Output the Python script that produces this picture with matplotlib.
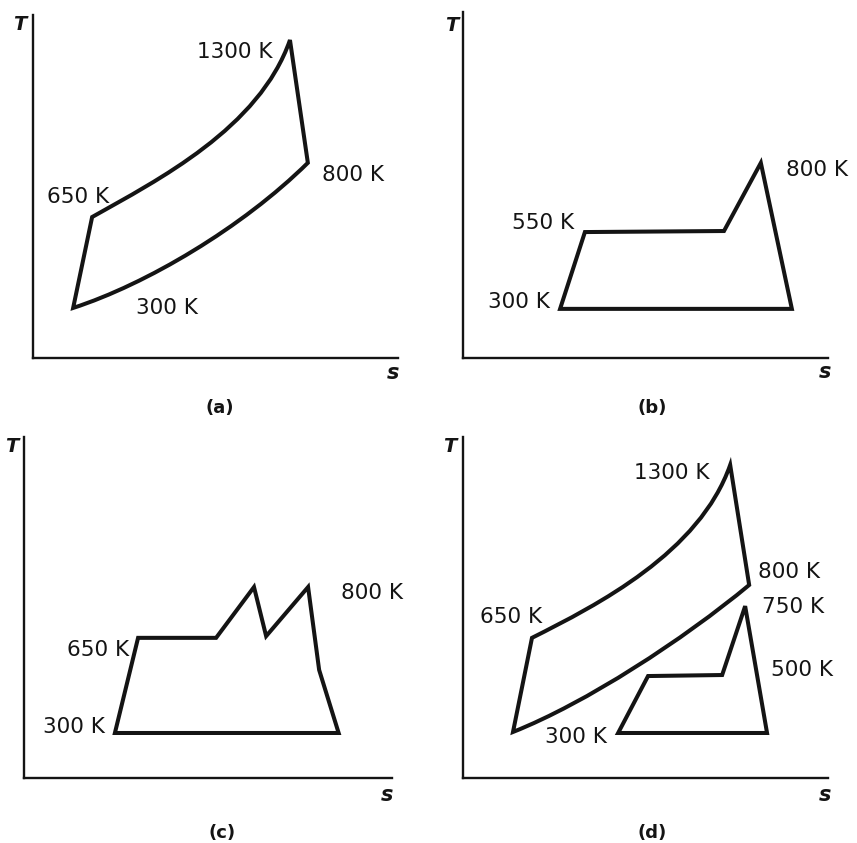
import matplotlib
matplotlib.use("Agg")
import matplotlib.pyplot as plt
from matplotlib.path import Path
from matplotlib.patches import PathPatch

plt.rcParams['font.family'] = ['DejaVu Sans']

# ---- data (s and T in diagram units, 0-100 along each axis) ----
# Each cycle: list of segments; "L" = straight line to point,
# "C" = smooth curve (two control points, then end point).
# (a) simple gas-turbine cycle
a_start = (11.0, 14.6)                                      # 300 K
a_segs = [("L", [(16.2, 41.1)]),                            # 650 K
          ("C", [(34.2, 51.9), (62.0, 67.0), (70.4, 92.7)]),  # 1300 K
          ("L", [(75.3, 56.9)]),                            # 800 K
          ("C", [(57.3, 38.0), (31.0, 21.5), (11.0, 14.6)])]
a_labels = ["1300 K", "650 K", "800 K", "300 K"]

# (b) steam cycle
b_start = (26.6, 14.2)
b_segs = [("L", [(33.4, 36.4), (71.5, 36.7), (81.6, 56.4), (90.1, 14.2), (26.6, 14.2)])]
b_labels = ["800 K", "550 K", "300 K"]

# (c) steam cycle with reheat
c_start = (24.7, 13.2)
c_segs = [("L", [(31.0, 41.1), (52.2, 41.1), (62.5, 56.0), (65.8, 41.6),
                 (77.2, 56.0), (80.2, 31.7), (85.5, 13.2), (24.7, 13.2)])]
c_labels = ["800 K", "650 K", "300 K"]

# (d) combined cycle: gas (outer) + steam (inner)
d_gas_start = (13.7, 13.5)
d_gas_segs = [("L", [(18.9, 41.1)]),
              ("C", [(36.9, 50.8), (64.8, 66.1), (73.2, 91.8)]),
              ("L", [(78.4, 56.6)]),
              ("C", [(60.4, 40.6), (33.7, 22.0), (13.7, 13.5)])]
d_st_start = (42.5, 13.2)
d_st_segs = [("L", [(50.7, 29.9), (71.0, 30.2), (77.3, 50.4), (83.3, 13.2), (42.5, 13.2)])]
d_labels = ["1300 K", "800 K", "750 K", "500 K", "650 K", "300 K"]

panel_names = ["(a)", "(b)", "(c)", "(d)"]

# ---- layout ----
W, H = 857, 843
fig = plt.figure(figsize=(W / 100, H / 100), dpi=100)
fig.patch.set_facecolor("white")

# pixel boxes: (x_left, x_right, y_bottom, y_top)
boxes = [(33, 398, 358, 15), (463, 828, 358, 12),
         (24, 392, 778, 437), (463, 828, 778, 437)]

LW = 2.9
COL = "#141414"
FS = 15.5

def make_ax(box):
    x0, x1, y0, yt = box
    ax = fig.add_axes([x0 / W, (H - y0) / H, (x1 - x0) / W, (y0 - yt) / H])
    ax.set_xlim(0, 100)
    ax.set_ylim(0, 100)
    for side in ("top", "right"):
        ax.spines[side].set_visible(False)
    for side in ("left", "bottom"):
        ax.spines[side].set_linewidth(1.7)
        ax.spines[side].set_color(COL)
    ax.set_xticks([])
    ax.set_yticks([])
    ax.patch.set_alpha(0)
    return ax

def cycle(ax, start, segs):
    verts = [start]
    codes = [Path.MOVETO]
    for kind, pts in segs:
        verts += pts
        codes += [Path.LINETO if kind == "L" else Path.CURVE4] * len(pts)
    verts.append(start)
    codes.append(Path.CLOSEPOLY)
    ax.add_patch(PathPatch(Path(verts, codes), facecolor="none", edgecolor=COL,
                           lw=LW, joinstyle="miter", clip_on=False))

def lab(ax, x, y, t):
    ax.text(x, y, t, ha="center", va="center", fontsize=FS, color=COL,
            clip_on=False)

def axis_names(ax, tpos, spos, npos, name):
    ax.text(*tpos, "T", ha="center", va="center", fontsize=14,
            style="italic", fontweight="bold", color=COL)
    ax.text(*spos, "s", ha="center", va="center", fontsize=15,
            style="italic", fontweight="bold", color=COL)
    ax.text(*npos, name, ha="center", va="center", fontsize=13,
            fontweight="bold", color=COL)

axs = [make_ax(b) for b in boxes]

# (a)
ax = axs[0]
cycle(ax, a_start, a_segs)
for (x, y), t in zip([(55.3, 89.2), (12.3, 46.9), (87.7, 53.4), (36.7, 14.6)], a_labels):
    lab(ax, x, y, t)
axis_names(ax, (-3.6, 97.1), (98.6, -4.4), (51.2, -14.6), panel_names[0])

# (b)
ax = axs[1]
cycle(ax, b_start, b_segs)
for (x, y), t in zip([(97.0, 54.3), (21.9, 39.0), (15.3, 16.2)], b_labels):
    lab(ax, x, y, t)
axis_names(ax, (-3.0, 96.2), (99.2, -4.0), (51.8, -14.5), panel_names[1])

# (c)
ax = axs[2]
cycle(ax, c_start, c_segs)
for (x, y), t in zip([(94.6, 54.3), (20.1, 37.5), (13.6, 15.0)], c_labels):
    lab(ax, x, y, t)
axis_names(ax, (-3.3, 97.1), (98.6, -5.0), (53.8, -16.1), panel_names[2])

# (d)
ax = axs[3]
cycle(ax, d_gas_start, d_gas_segs)
cycle(ax, d_st_start, d_st_segs)
for (x, y), t in zip([(57.3, 89.4), (89.3, 60.4), (90.4, 50.1), (92.9, 31.7),
                      (13.2, 47.2), (31.0, 12.0)], d_labels):
    lab(ax, x, y, t)
axis_names(ax, (-3.6, 97.1), (99.2, -5.0), (51.8, -16.1), panel_names[3])

fig.savefig("out.png", dpi=100, facecolor="white")
